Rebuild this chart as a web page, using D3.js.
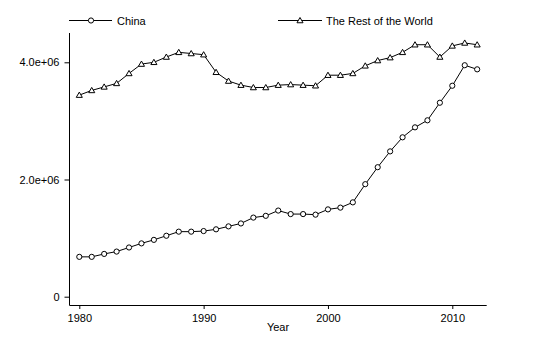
<!DOCTYPE html>
<html><head><meta charset="utf-8">
<script src="https://cdn.jsdelivr.net/npm/d3@7"></script>
<style>body{margin:0;background:#fff}svg{display:block}text{font-family:"Liberation Sans",Arial,sans-serif;font-size:11px;fill:#000}</style>
</head><body><svg id="c" width="533" height="350"></svg>
<script>
const years = d3.range(1980, 2013);
const china = [0.68,0.68,0.73,0.77,0.84,0.91,0.97,1.04,1.11,1.11,1.12,1.15,1.20,1.25,1.35,1.38,1.47,1.41,1.41,1.40,1.49,1.52,1.61,1.92,2.21,2.48,2.72,2.89,3.01,3.31,3.60,3.95,3.88].map(v=>v*1e6);
const rest = [3.44,3.52,3.58,3.64,3.81,3.97,4.00,4.09,4.17,4.15,4.13,3.83,3.68,3.61,3.57,3.57,3.61,3.62,3.61,3.60,3.78,3.78,3.81,3.94,4.03,4.08,4.17,4.30,4.30,4.09,4.28,4.33,4.30].map(v=>v*1e6);
const yTicks = [0, 2e6, 4e6];
const yTickLabels = ["0", "2.0e+06", "4.0e+06"];
const xTicks = [1980, 1990, 2000, 2010];
const seriesNames = ["China", "The Rest of the World"];

const svg = d3.select("#c");
const x = d3.scaleLinear().domain([1980, 2010]).range([79.3, 452.3]);
const y = d3.scaleLinear().domain([0, 4e6]).range([296.7, 62.3]);

// axes
const xAxis = d3.axisBottom(x).tickValues(xTicks).tickFormat(d3.format("d")).tickSize(4).tickSizeOuter(0);
const gx = svg.append("g").attr("transform","translate(0,305)").call(xAxis);
gx.select(".domain").attr("d","M69.3,0.5H486.7").attr("stroke","#000");
const yAxis = d3.axisLeft(y).tickValues(yTicks).tickFormat((d,i)=>yTickLabels[i]).tickSize(5).tickSizeOuter(0);
const gy = svg.append("g").attr("transform","translate(69.5,0)").call(yAxis);
gy.select(".domain").attr("d","M0,33V305").attr("stroke","#000");
svg.selectAll(".tick line").attr("stroke","#000");
svg.selectAll(".tick text").style("font-size","11px").style("font-family","Liberation Sans, Arial, sans-serif").attr("fill","#000");
gx.selectAll(".tick text").attr("dy","0.9em");
gy.selectAll(".tick text").attr("x",-10);

svg.append("text").attr("x",278).attr("y",331).attr("text-anchor","middle").text("Year");

const line = d3.line().x((d,i)=>x(years[i])).y(d=>y(d));
const tri = d3.symbol().type(d3.symbolTriangle).size(16);

function drawSeries(vals, type){
  svg.append("path").attr("d", line(vals)).attr("fill","none").attr("stroke","#000").attr("stroke-width",1);
  const g = svg.append("g");
  vals.forEach((v,i)=>{
    if(type==="circle") g.append("circle").attr("cx",x(years[i])).attr("cy",y(v)).attr("r",2.6).attr("fill","#fff").attr("stroke","#000").attr("stroke-width",1);
    else g.append("path").attr("d",tri()).attr("transform",`translate(${x(years[i])},${y(v)+0.5})`).attr("fill","#fff").attr("stroke","#000").attr("stroke-width",1);
  });
}
drawSeries(rest, "tri");
drawSeries(china, "circle");

// legend
const lg = svg.append("g");
lg.append("line").attr("x1",69).attr("x2",112).attr("y1",20.5).attr("y2",20.5).attr("stroke","#000");
lg.append("circle").attr("cx",91).attr("cy",20.5).attr("r",2.6).attr("fill","#fff").attr("stroke","#000");
lg.append("text").attr("x",117).attr("y",24.5).text(seriesNames[0]);
lg.append("line").attr("x1",278).attr("x2",322).attr("y1",20.5).attr("y2",20.5).attr("stroke","#000");
lg.append("path").attr("d",tri()).attr("transform","translate(300,21)").attr("fill","#fff").attr("stroke","#000");
lg.append("text").attr("x",326).attr("y",24.5).text(seriesNames[1]);
</script></body></html>
